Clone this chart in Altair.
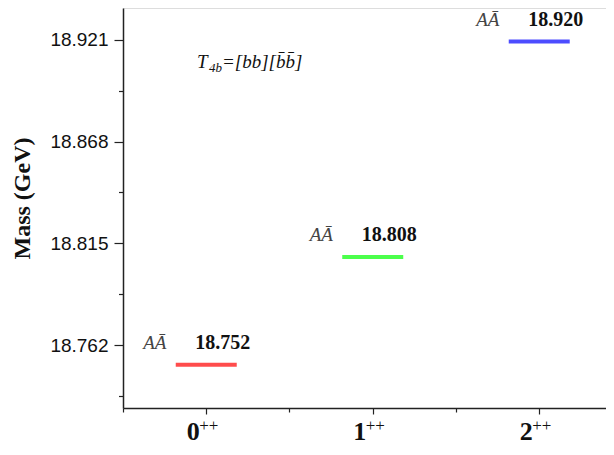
import altair as alt
import pandas as pd

# ---- data ----
categories = ["0", "1", "2"]
cat_pos = [0, 1, 2]
masses = [18.752, 18.808, 18.920]
state_names = ["A\u0100", "A\u0100", "A\u0100"]
colors = ["#ff0000", "#00ff00", "#0000ff"]

y_major = [18.762, 18.815, 18.868, 18.921]
y_minor = [18.7355, 18.7885, 18.8415, 18.8945]
x_major = [0, 1, 2]
x_minor = [-0.5, 0.5, 1.5]

df = pd.DataFrame({
    "cat": categories,
    "pos": cat_pos,
    "mass": masses,
    "state": state_names,
})

W, H = 483, 400
serif = "Liberation Serif"
sans = "Liberation Sans"

major_test = "indexof([" + ",".join(str(v) for v in y_major) + "], datum.value) >= 0"

x_enc = alt.X(
    "pos:Q",
    scale=alt.Scale(domain=[-0.5, 2.401], nice=False, zero=False),
    axis=alt.Axis(
        values=sorted(x_major + x_minor),
        labels=False,
        title=None,
        grid=False,
        domainColor="#222",
        domainWidth=1.5,
        tickColor="#222",
        tickWidth=1.2,
        tickSize={"condition": {"test": "datum.value % 1 == 0", "value": 6}, "value": 4},
    ),
)

y_enc = alt.Y(
    "mass:Q",
    scale=alt.Scale(domain=[18.72952, 18.93737], nice=False, zero=False),
    axis=alt.Axis(
        values=sorted(y_major + y_minor),
        labelExpr=major_test + " ? format(datum.value, '.3f') : ''",
        tickSize={"condition": {"test": major_test, "value": 9}, "value": 4.5},
        labelFont=sans,
        labelFontSize=19,
        labelColor="#111",
        labelPadding=6,
        grid=False,
        domainColor="#222",
        domainWidth=1.5,
        tickColor="#222",
        tickWidth=1.2,
        title="Mass (GeV)",
        titleFont=serif,
        titleFontSize=24,
        titleFontWeight="bold",
        titleColor="#111",
        titleX=-101,
        titleY=190,
        titleAngle=270,
        titleAlign="center",
        titleBaseline="middle",
    ),
)

base = alt.Chart(df)

levels = base.mark_tick(orient="horizontal", thickness=4, size=61).encode(
    x=x_enc,
    y=y_enc,
    color=alt.Color("cat:N", scale=alt.Scale(domain=categories, range=colors), legend=None),
)

state_text = base.mark_text(
    font=serif, fontStyle="italic", fontSize=19, color="#444",
    align="left", baseline="alphabetic", dx=-63, dy=-15.5,
).encode(x="pos:Q", y="mass:Q", text="state:N")

mass_text = base.mark_text(
    font=serif, fontWeight="bold", fontSize=20, color="#111",
    align="left", baseline="alphabetic", dx=-11, dy=-15.5,
).encode(x="pos:Q", y="mass:Q", text=alt.Text("mass:Q", format=".3f"))

digit_text = base.mark_text(
    font=serif, fontWeight="bold", fontSize=26, color="#111",
    align="center", baseline="alphabetic", dx=-13,
).encode(x="pos:Q", y=alt.value(432), text="cat:N")

plus_text = base.mark_text(
    font=serif, fontSize=17, color="#111",
    align="left", baseline="alphabetic", dx=-7,
).encode(x="pos:Q", y=alt.value(423), text=alt.value("++"))

ann = alt.Chart(pd.DataFrame({"t": ["T"]}))
t_main = ann.mark_text(font=serif, fontStyle="italic", fontSize=19, color="#111",
                       align="left", baseline="alphabetic").encode(
    x=alt.value(74), y=alt.value(60), text=alt.value("T"))
t_sub = ann.mark_text(font=serif, fontStyle="italic", fontSize=13, color="#111",
                      align="left", baseline="alphabetic").encode(
    x=alt.value(86), y=alt.value(64), text=alt.value("4b"))
t_rest = ann.mark_text(font=serif, fontStyle="italic", fontSize=19, color="#111",
                       align="left", baseline="alphabetic").encode(
    x=alt.value(99), y=alt.value(60), text=alt.value("=[bb][b\u0304b\u0304]"))

chart = alt.layer(
    levels, state_text, mass_text, digit_text, plus_text, t_main, t_sub, t_rest
).properties(
    width=W, height=H,
    autosize=alt.AutoSizeParams(type="none"),
    padding={"left": 115, "top": 0, "right": 0, "bottom": 38},
).configure_view(stroke=None).configure(background="white")

chart.save("out.html", embed_options={"renderer": "svg", "actions": False})
